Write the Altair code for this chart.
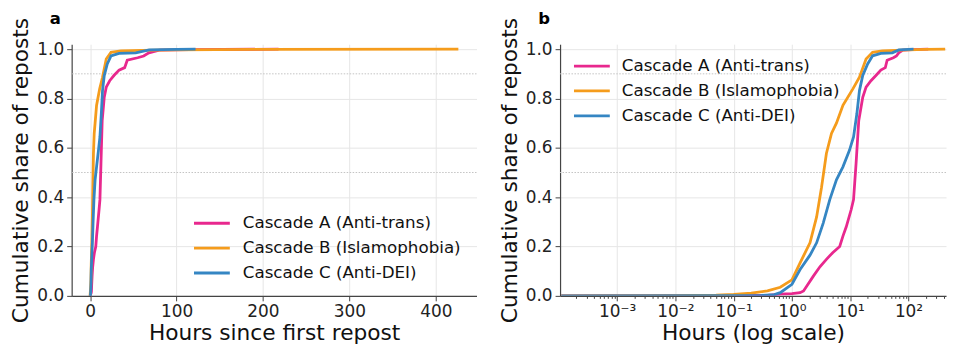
import altair as alt
import pandas as pd

FONT = "DejaVu Sans"

SERIES = ["Cascade A (Anti-trans)", "Cascade B (Islamophobia)", "Cascade C (Anti-DEI)"]
COLORS = ["#e8288e", "#f59c1c", "#3586c3"]

# Cascade A (Anti-trans)
a_hours = [1.1e-4, 0.1, 0.38, 0.63, 1.0, 1.38, 1.58, 1.8, 2.33, 3.02, 3.9, 5.0, 6.6, 7.5,
           8.55, 10.4, 11.4, 12.6, 14.0, 16.4, 18.7, 22.7, 27.6, 33.5, 40.0, 43.0, 55.0,
           62.0, 68.0, 80.0, 115.0, 218.0]
a_share = [0.0, 0.001, 0.002, 0.007, 0.009, 0.013, 0.02, 0.04, 0.08, 0.118, 0.148, 0.175,
           0.2, 0.242, 0.28, 0.35, 0.39, 0.537, 0.71, 0.805, 0.846, 0.872, 0.893, 0.915,
           0.925, 0.955, 0.965, 0.972, 0.985, 0.996, 0.998, 1.0]

# Cascade B (Islamophobia)
b_hours = [1.1e-4, 0.01, 0.05, 0.1, 0.2, 0.38, 0.63, 1.0, 1.38, 2.04, 2.65, 3.22, 3.9,
           4.77, 5.8, 7.5, 11.1, 14.4, 18.7, 24.2, 35.7, 60.0, 100.0, 200.0, 426.0]
b_share = [0.0, 0.001, 0.003, 0.006, 0.011, 0.02, 0.035, 0.065, 0.134, 0.215, 0.32, 0.44,
           0.577, 0.658, 0.70, 0.772, 0.839, 0.886, 0.96, 0.987, 0.993, 0.995, 0.997,
           0.999, 1.0]

# Cascade C (Anti-DEI)
c_hours = [1.1e-4, 0.1, 0.3, 0.5, 0.63, 1.0, 1.38, 2.04, 2.65, 3.44, 4.46, 5.8, 7.5, 9.7,
           11.4, 13.0, 14.4, 16.4, 19.9, 24.2, 33.5, 52.8, 68.4, 100.0, 122.0]
c_share = [0.0, 0.001, 0.002, 0.005, 0.013, 0.047, 0.107, 0.165, 0.215, 0.295, 0.39, 0.47,
           0.523, 0.59, 0.644, 0.738, 0.832, 0.893, 0.94, 0.973, 0.983, 0.985, 0.997,
           0.999, 1.0]

Y_TICKS = [0.0, 0.2, 0.4, 0.6, 0.8, 1.0]
REF_LINES = [0.5, 0.9]
LIN_TICKS = [0, 100, 200, 300, 400]
LOG_MAJOR = [1e-3, 1e-2, 1e-1, 1.0, 10.0, 100.0]
LOG_MINOR = [k * 10.0 ** e for e in range(-4, 3) for k in range(2, 10) if k * 10.0 ** e <= 440]

rows = []
for name, hs, ss in zip(SERIES, [a_hours, b_hours, c_hours], [a_share, b_share, c_share]):
    for h, s in zip(hs, ss):
        rows.append({"series": name, "hours": h, "share": s})
df = pd.DataFrame(rows)
ref_df = pd.DataFrame({"share": REF_LINES})

color_scale = alt.Scale(domain=SERIES, range=COLORS)
H = 253

y_enc = alt.Y(
    "share:Q",
    scale=alt.Scale(domain=[0, 1.02], nice=False, zero=False),
    axis=alt.Axis(values=Y_TICKS, format=".1f", title="Cumulative share of reposts",
                  titlePadding=4),
)


def legend_layers(x0, x1, xt, y0, dy):
    layers = []
    for i, name in enumerate(SERIES):
        d = pd.DataFrame({"series": [name]})
        layers.append(
            alt.Chart(d).mark_rule(strokeWidth=2.8).encode(
                x=alt.value(x0), x2=alt.value(x1), y=alt.value(y0 + i * dy),
                color=alt.Color("series:N", scale=color_scale, legend=None),
            )
        )
        layers.append(
            alt.Chart(d).mark_text(align="left", baseline="middle", font=FONT,
                                   fontSize=16.8, color="#111").encode(
                x=alt.value(xt), y=alt.value(y0 + i * dy), text="series:N"
            )
        )
    return layers


def panel_label(txt):
    return alt.Chart(pd.DataFrame({"label": [txt]})).mark_text(
        align="left", baseline="alphabetic", font=FONT, fontSize=16.5, fontWeight="bold",
        color="black").encode(x=alt.value(-22), y=alt.value(-20), text="label:N")


ref_rules = alt.Chart(ref_df).mark_rule(strokeDash=[1.5, 1.5], color="#c4c4c4",
                                        strokeWidth=1).encode(y=alt.Y("share:Q"))

# Panel a
W1 = 407
lines_a = alt.Chart(df).mark_line(strokeWidth=2.8).encode(
    x=alt.X("hours:Q", scale=alt.Scale(domain=[-21.3, 447], nice=False, zero=False),
            axis=alt.Axis(values=LIN_TICKS, title="Hours since first repost",
                          labelFlush=False, titlePadding=3)),
    y=y_enc,
    color=alt.Color("series:N", scale=color_scale, legend=None),
    order=alt.Order("hours:Q"),
)
panel_a = alt.layer(ref_rules, lines_a, *legend_layers(123, 159, 172, 180, 25),
                    panel_label("a")).properties(width=W1, height=H)

# Panel b
W2 = 388
major_test = "abs(log(datum.value)/LN10 - round(log(datum.value)/LN10)) < 0.001"
exp_e = "round(log(datum.value)/LN10)"
label_expr = (
    f"{major_test} ? ({exp_e} == -3 ? '10⁻³' : {exp_e} == -2 ? '10⁻²' : "
    f"{exp_e} == -1 ? '10⁻¹' : {exp_e} == 0 ? '10⁰' : {exp_e} == 1 ? '10¹' : "
    f"{exp_e} == 2 ? '10²' : '') : ''"
)
lines_b = alt.Chart(df).mark_line(strokeWidth=2.8, clip=True).encode(
    x=alt.X("hours:Q",
            scale=alt.Scale(type="log", domain=[1.05e-4, 440], nice=False),
            axis=alt.Axis(values=LOG_MAJOR + LOG_MINOR, title="Hours (log scale)",
                          labelExpr=label_expr, labelOverlap=False, labelFlush=False,
                          tickSize={"condition": {"test": major_test, "value": 5}, "value": 2.5},
                          gridOpacity={"condition": {"test": major_test, "value": 1}, "value": 0},
                          titlePadding=3)),
    y=y_enc,
    color=alt.Color("series:N", scale=color_scale, legend=None),
    order=alt.Order("hours:Q"),
)
panel_b = alt.layer(ref_rules, lines_b, *legend_layers(14, 50, 62, 22, 25),
                    panel_label("b")).properties(width=W2, height=H)

chart = alt.hconcat(panel_a, panel_b, spacing=21).properties(
    padding={"left": 2, "top": 2.5, "right": 0, "bottom": 0}, background="white"
).configure_view(stroke=None).configure_axis(
    labelFont=FONT, labelFontSize=17, labelColor="#222",
    titleFont=FONT, titleFontSize=21.8, titleFontWeight="normal", titleColor="#111",
    gridColor="#e6e6e6", gridWidth=1, domainColor="#444", domainWidth=1.2,
    tickColor="#444", tickSize=5, tickWidth=1, labelPadding=3,
)

chart.save("out.html", embed_options={"renderer": "svg", "actions": False})
